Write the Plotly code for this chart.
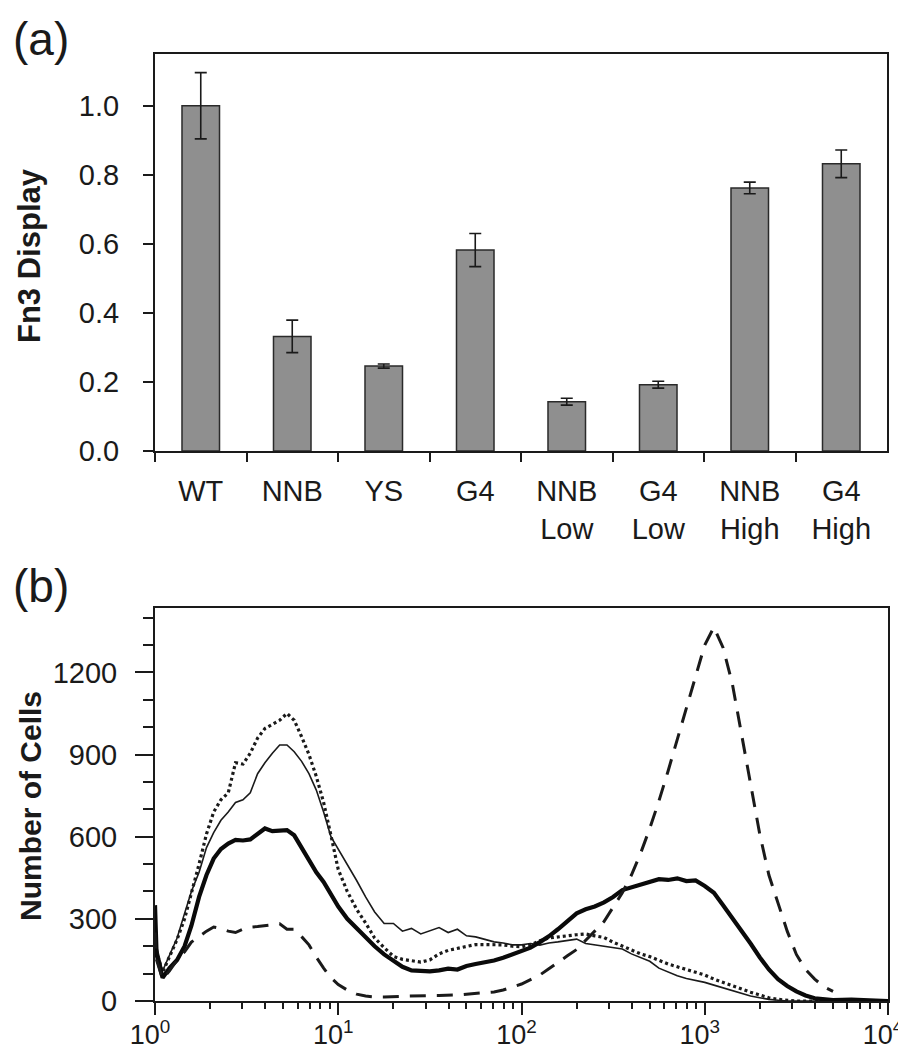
import plotly.graph_objects as go

# ---------------- Panel (a) data ----------------
categories = ["WT", "NNB", "YS", "G4", "NNB Low", "G4 Low", "NNB High", "G4 High"]
category_labels = ["WT", "NNB", "YS", "G4", "NNB<br>Low", "G4<br>Low", "NNB<br>High", "G4<br>High"]
fn3_display = [1.000, 0.332, 0.246, 0.582, 0.143, 0.192, 0.762, 0.832]
fn3_error = [0.096, 0.047, 0.006, 0.048, 0.010, 0.010, 0.017, 0.040]
y_ticks_a = [0.0, 0.2, 0.4, 0.6, 0.8, 1.0]

# ---------------- Panel (b) data ----------------
fluorescence = [1.00, 1.02, 1.10, 1.20, 1.32, 1.45, 1.58, 1.74, 1.91, 2.09,
                2.29, 2.51, 2.75, 3.02, 3.31, 3.63, 3.98, 4.37, 4.79, 5.25,
                5.75, 6.31, 6.92, 7.59, 8.32, 9.12, 10.0, 11.2, 12.6, 14.1,
                15.8, 17.8, 20.0, 22.4, 25.1, 28.2, 31.6, 35.5, 39.8, 44.7,
                50.1, 56.2, 63.1, 70.8, 79.4, 89.1, 100, 112, 126, 141,
                158, 178, 200, 224, 251, 282, 316, 355, 398, 447,
                501, 562, 631, 708, 794, 891, 1000, 1122, 1259, 1413,
                1585, 1778, 1995, 2239, 2512, 2818, 3162, 3548, 3981, 4467,
                5012, 6310, 7943, 10000]

cells_thin = [330, 200, 110, 170, 230, 320, 400, 470, 560, 615,
              660, 690, 725, 735, 760, 830, 870, 905, 935, 935,
              910, 875, 830, 770, 690, 600, 555, 500, 440, 380,
              325, 283, 283, 255, 265, 245, 255, 268, 250, 262,
              238, 234, 225, 216, 212, 205, 205, 210, 204, 212,
              216, 222, 226, 210, 205, 200, 194, 190, 172, 158,
              145, 120, 105, 92, 82, 75, 68, 58, 48, 38,
              28, 18, 12, 6, 3, 0, 0, 0, 0, 0,
              0, 0, 0, 0]

cells_dotted = [250, 180, 105, 160, 225, 300, 390, 500, 610, 690,
                735, 760, 870, 865, 905, 960, 995, 1010, 1025, 1050,
                1025, 965, 900, 820, 725, 605, 480, 400, 335, 285,
                230, 195, 163, 152, 148, 142, 150, 172, 185, 192,
                200, 206, 206, 206, 205, 200, 198, 205, 220, 230,
                235, 238, 242, 245, 238, 232, 215, 200, 185, 172,
                162, 148, 135, 125, 115, 105, 95, 80, 68, 55,
                42, 32, 22, 12, 6, 2, 0, 0, 0, 0,
                0, 0, 0, 0]

cells_thick = [350, 170, 85, 120, 150, 200, 275, 380, 460, 520,
               555, 575, 588, 586, 590, 612, 630, 620, 622, 624,
               605, 560, 515, 470, 435, 390, 345, 300, 265, 235,
               200, 170, 148, 125, 112, 110, 108, 112, 118, 115,
               128, 135, 140, 148, 158, 170, 180, 195, 215, 236,
               262, 290, 320, 335, 345, 360, 380, 405, 415, 425,
               438, 445, 442, 448, 438, 440, 420, 395, 350, 305,
               260, 210, 160, 115, 80, 55, 35, 20, 10, 5,
               3, 5, 2, 0]

cells_dashed = [250, 150, 80, 110, 150, 180, 215, 235, 255, 270,
                265, 255, 250, 262, 270, 272, 275, 280, 282, 262,
                262, 235, 205, 160, 120, 85, 60, 40, 25, 18,
                15, 15, 16, 18, 20, 20, 20, 20, 20, 22,
                25, 28, 30, 33, 40, 50, 62, 78, 95, 118,
                142, 165, 188, 220, 255, 290, 340, 395, 460, 540,
                630, 730, 840, 955, 1065, 1180, 1300, 1365, 1290, 1160,
                980, 790, 610, 460, 355, 255, 170, 115, 80, 52,
                35, None, None, None]

decades = [1, 10, 100, 1000, 10000]
decade_labels = ["10<sup>0</sup>", "10<sup>1</sup>", "10<sup>2</sup>", "10<sup>3</sup>", "10<sup>4</sup>"]
y_ticks_b = [0, 300, 600, 900, 1200]

W, H = 906, 1050
FONT = "Liberation Sans, Arial, Helvetica, sans-serif"
INK = "#1a1a1a"

fig = go.Figure()

fig.add_trace(go.Bar(
    x=categories, y=fn3_display,
    width=0.41,
    marker=dict(color="#8f8f8f", line=dict(color="#2a2a2a", width=1.5)),
    error_y=dict(type="data", array=fn3_error, visible=True,
                 color=INK, thickness=1.6, width=6),
    xaxis="x", yaxis="y",
))

line_specs = [
    (cells_thin, dict(color=INK, width=1.6)),
    (cells_dotted, dict(color=INK, width=3.2, dash="3px,3px")),
    (cells_thick, dict(color="#0a0a0a", width=4.2)),
    (cells_dashed, dict(color=INK, width=3.0, dash="16px,11px")),
]
for vals, ls in line_specs:
    fig.add_trace(go.Scatter(
        x=fluorescence, y=vals, mode="lines", line=ls,
        connectgaps=False, xaxis="x2", yaxis="y2",
    ))

minor_logs = [d * k for d in [1, 10, 100, 1000] for k in range(2, 10)]

fig.update_layout(
    width=W, height=H,
    margin=dict(l=0, r=0, t=0, b=0),
    paper_bgcolor="white", plot_bgcolor="white",
    showlegend=False,
    font=dict(family=FONT, size=29, color=INK),
    xaxis=dict(
        domain=[147 / W, 879 / W], anchor="y",
        type="category", range=[-0.5, 7.5],
        tickvals=categories, ticktext=category_labels,
        tickson="boundaries", ticks="outside", ticklen=9, tickwidth=2, tickcolor=INK,
        ticklabelstandoff=13,
        showline=True, mirror=True, linecolor=INK, linewidth=2,
        showgrid=False, zeroline=False,
        tickfont=dict(size=29), automargin=False,
    ),
    yaxis=dict(
        domain=[1 - 443 / H, 1 - 46 / H], anchor="x",
        range=[0, 1.15], tickvals=y_ticks_a, tickformat=".1f",
        ticks="outside", ticklen=10, tickwidth=2, tickcolor=INK,
        ticklabelstandoff=18,
        showline=True, mirror=True, linecolor=INK, linewidth=2,
        showgrid=False, zeroline=False,
        tickfont=dict(size=29), automargin=False,
    ),
    xaxis2=dict(
        domain=[147 / W, 880 / W], anchor="y2",
        type="log", range=[0, 4],
        tickvals=decades, ticktext=decade_labels,
        ticks="outside", ticklen=12, tickwidth=2, tickcolor=INK,
        ticklabelstandoff=-3, ticklabelshift=-5,
        minor=dict(tickvals=minor_logs, ticks="outside", ticklen=6, tickwidth=1.5,
                   tickcolor=INK, showgrid=False),
        showline=True, mirror=True, linecolor=INK, linewidth=2,
        showgrid=False, zeroline=False,
        tickfont=dict(size=27), automargin=False,
    ),
    yaxis2=dict(
        domain=[1 - 993 / H, 1 - 600 / H], anchor="x2",
        range=[0, 1435], tickvals=y_ticks_b,
        ticks="outside", ticklen=18, tickwidth=2, tickcolor=INK,
        ticklabelstandoff=12,
        minor=dict(dtick=100, ticks="outside", ticklen=10, tickwidth=1.5,
                   tickcolor=INK, showgrid=False),
        showline=True, mirror=True, linecolor=INK, linewidth=2,
        showgrid=False, zeroline=False,
        tickfont=dict(size=29), automargin=False,
    ),
    annotations=[
        dict(text="(a)", x=33 / W, y=1 - 31 / H, xref="paper", yref="paper",
             showarrow=False, font=dict(size=46), xanchor="center", yanchor="middle"),
        dict(text="(b)", x=33 / W, y=1 - 578 / H, xref="paper", yref="paper",
             showarrow=False, font=dict(size=46), xanchor="center", yanchor="middle"),
        dict(text="<b>Fn3 Display</b>", x=22 / W, y=1 - 248 / H, xref="paper", yref="paper",
             showarrow=False, textangle=-90, font=dict(size=31),
             xanchor="center", yanchor="middle"),
        dict(text="<b>Number of Cells</b>", x=22 / W, y=1 - 798 / H, xref="paper", yref="paper",
             showarrow=False, textangle=-90, font=dict(size=30),
             xanchor="center", yanchor="middle"),
    ],
)

fig.write_html("out.html")
